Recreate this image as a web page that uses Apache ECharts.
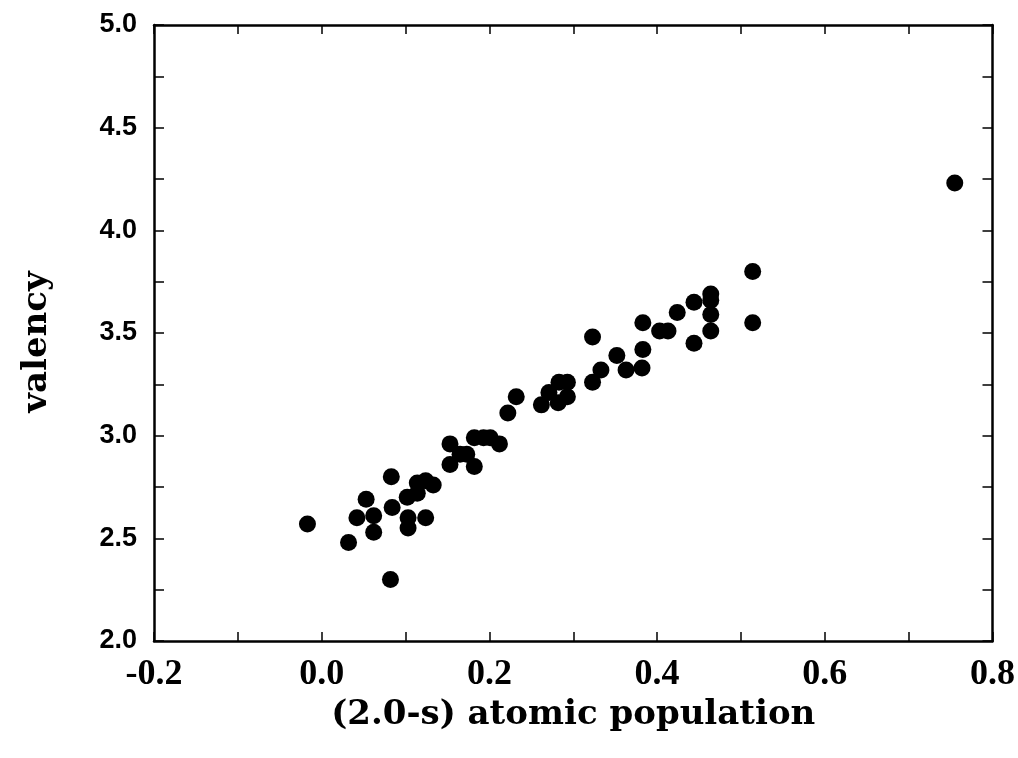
<!DOCTYPE html>
<html>
<head>
<meta charset="utf-8">
<script src="https://cdn.jsdelivr.net/npm/echarts@6/dist/echarts.min.js"></script>
<style>html,body{margin:0;padding:0;background:#fff}#c{width:1018px;height:758px}</style>
</head>
<body>
<div id="c"></div>
<script>
// (2.0-s) atomic population values
const xValues = [-0.017,0.032,0.042,0.053,0.062,0.062,0.082,0.083,0.084,0.102,0.103,0.103,0.114,0.114,0.124,0.124,0.133,
  0.153,0.153,0.165,0.173,0.182,0.182,0.193,0.201,0.212,0.222,0.232,0.262,0.271,0.282,0.283,0.293,0.293,
  0.323,0.333,0.323,0.352,0.363,0.382,0.383,0.383,0.403,0.413,0.424,0.444,0.444,0.464,0.464,0.464,0.464,
  0.514,0.514,0.755];
// valency values
const yValues = [2.57,2.48,2.60,2.69,2.61,2.53,2.30,2.80,2.65,2.70,2.60,2.55,2.72,2.77,2.60,2.78,2.76,
  2.96,2.86,2.91,2.91,2.85,2.99,2.99,2.99,2.96,3.11,3.19,3.15,3.21,3.16,3.26,3.26,3.19,
  3.26,3.32,3.48,3.39,3.32,3.33,3.42,3.55,3.51,3.51,3.60,3.65,3.45,3.69,3.66,3.59,3.51,
  3.80,3.55,4.23];
const xTicks = [-0.2, 0.8, 0.2];
const yTicks = [2.0, 5.0, 0.5];

const points = xValues.map((x, i) => [x, yValues[i]]);
const chart = echarts.init(document.getElementById('c'));
const lineStyle = {color:'#000', width:2.5};
const tickStyle = {color:'#000', width:1.5};
function xAxis(pos, labels){
  return {type:'value', position:pos, min:xTicks[0], max:xTicks[1], interval:xTicks[2],
    axisLine:{show:true, onZero:false, lineStyle},
    axisTick:{show:true, inside:true, length:9, lineStyle:tickStyle},
    minorTick:{show:true, splitNumber:2, length:9, lineStyle:tickStyle},
    splitLine:{show:false},
    axisLabel:{show:labels, margin:16, color:'#000', fontFamily:'Liberation Serif', fontWeight:'bold', fontSize:36,
      formatter:v=>v.toFixed(1)},
    name: labels ? '(2.0-s) atomic population' : '', nameLocation:'middle', nameGap:57,
    nameTextStyle:{color:'#000', fontFamily:'DejaVu Serif', fontWeight:'bold', fontSize:34}};
}
function yAxis(pos, labels){
  return {type:'value', position:pos, min:yTicks[0], max:yTicks[1], interval:yTicks[2],
    axisLine:{show:true, onZero:false, lineStyle},
    axisTick:{show:true, inside:true, length:10, lineStyle:tickStyle},
    minorTick:{show:true, splitNumber:2, length:10, lineStyle:tickStyle},
    splitLine:{show:false},
    axisLabel:{show:labels, margin:17, color:'#000', fontFamily:'Liberation Sans', fontWeight:'bold', fontSize:27,
      formatter:v=>v.toFixed(1)},
    name: labels ? 'valency' : '', nameLocation:'middle', nameGap:100,
    nameTextStyle:{color:'#000', fontFamily:'DejaVu Serif', fontWeight:'bold', fontSize:34, padding:[0,18,0,0]}};
}
chart.setOption({
  animation:false,
  backgroundColor:'#fff',
  grid:{left:154, right:21, top:25, bottom:117, containLabel:false},
  xAxis:[xAxis('bottom', true), xAxis('top', false)],
  yAxis:[yAxis('left', true), yAxis('right', false)],
  series:[{type:'scatter', xAxisIndex:0, yAxisIndex:0, data:points, symbol:'circle', symbolSize:17,
    itemStyle:{color:'#000', opacity:1}}]
});
</script>
</body>
</html>
